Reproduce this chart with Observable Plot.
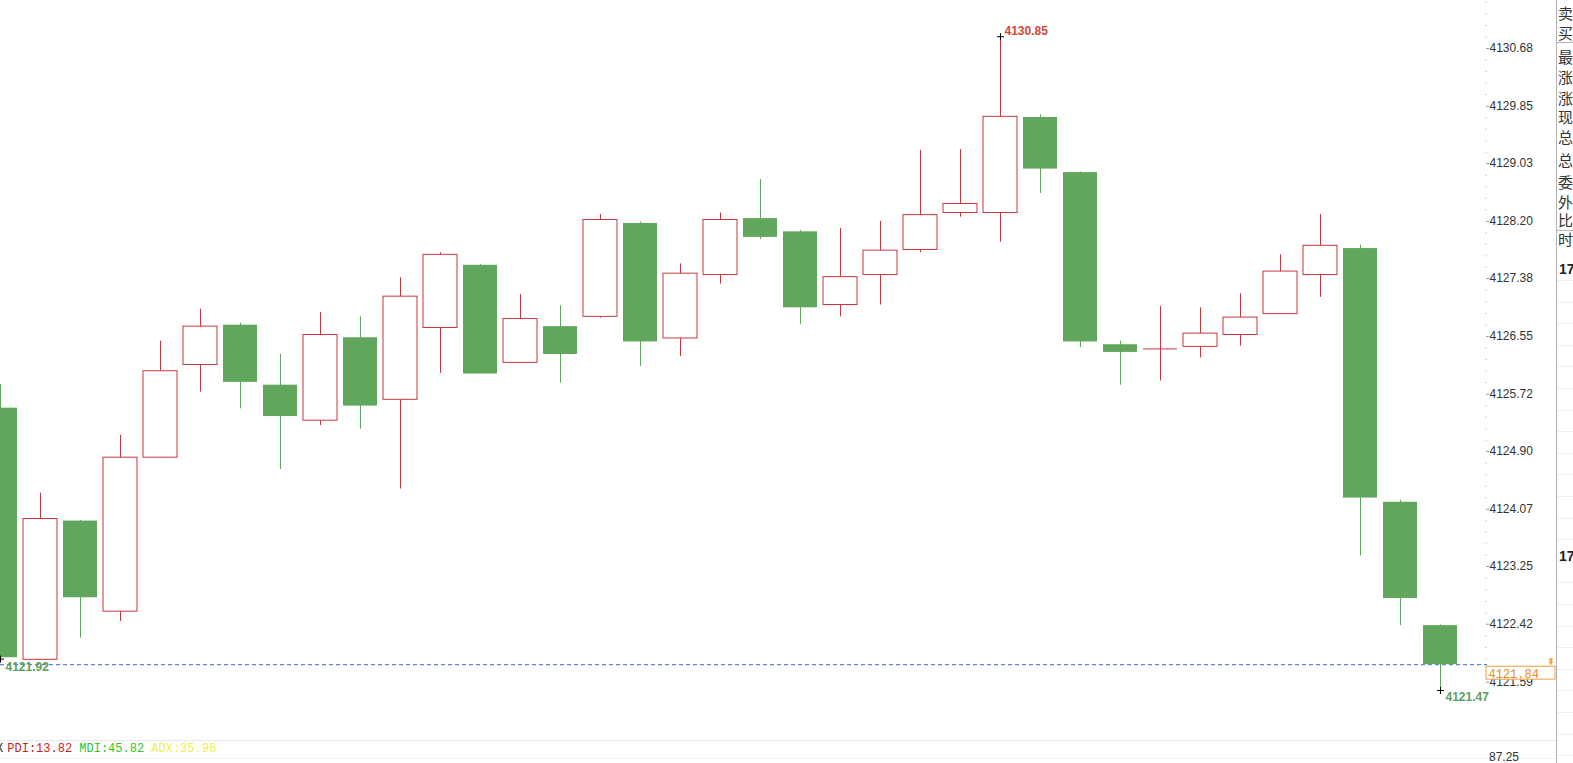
<!DOCTYPE html>
<html>
<head>
<meta charset="utf-8">
<script src="https://cdn.jsdelivr.net/npm/d3@7"></script>
<script src="https://cdn.jsdelivr.net/npm/@observablehq/plot@0.6"></script>
<style>
  html, body { margin: 0; padding: 0; background: #fff; overflow: hidden; }
  #wrap { position: relative; width: 1573px; height: 763px; overflow: hidden; background: #fff; }
  #chart { position: absolute; left: 0; top: 0; }
  #pane { position: absolute; left: 0; top: 712px; width: 1556px; height: 51px; }
  #side { position: absolute; left: 1556px; top: 0; width: 17px; height: 763px; border-left: 1px solid #b4b4b4; overflow: hidden; }
  .mono { font-family: "Liberation Mono", "DejaVu Sans Mono", monospace; font-size: 12px; line-height: 14px; white-space: pre; position: absolute; }
  .sch { position: absolute; left: 1px; font-family: "Noto Sans CJK SC", sans-serif; font-size: 15px; line-height: 16px; color: #333; white-space: nowrap; }
</style>
</head>
<body>
<div id="wrap">
  <div id="chart"></div>
  <div id="pane"></div>
  <div id="side"></div>
</div>
<script>
// ---- data (one candle per bar, left to right) ----
const opens  = [4125.52, 4121.91, 4123.90, 4122.60, 4124.81, 4126.14, 4126.71, 4125.85, 4125.34, 4126.53,
                4125.64, 4126.67, 4127.57, 4126.17, 4126.69, 4126.83, 4128.17, 4126.52, 4127.43, 4128.24,
                4128.05, 4127.00, 4127.43, 4127.79, 4128.32, 4128.32, 4129.69, 4128.90, 4126.43, 4126.37,
                4126.40, 4126.57, 4126.87, 4127.43, 4127.81, 4124.17, 4122.40];
const highs  = [4125.86, 4124.30, 4123.91, 4125.13, 4126.48, 4126.94, 4126.74, 4126.29, 4126.89, 4126.83,
                4127.39, 4127.75, 4127.58, 4127.15, 4126.99, 4128.30, 4128.19, 4127.59, 4128.32, 4128.80,
                4128.07, 4128.10, 4128.20, 4129.22, 4129.23, 4130.85, 4129.73, 4128.91, 4126.48, 4126.98,
                4126.96, 4127.16, 4127.72, 4128.30, 4127.86, 4124.20, 4122.41];
const lows   = [4121.92, 4121.91, 4122.22, 4122.46, 4124.81, 4125.75, 4125.51, 4124.64, 4125.27, 4125.22,
                4124.36, 4126.02, 4126.01, 4126.17, 4125.88, 4126.81, 4126.12, 4126.26, 4127.30, 4127.94,
                4126.72, 4126.83, 4127.00, 4127.75, 4128.26, 4127.90, 4128.60, 4126.39, 4125.85, 4125.91,
                4126.24, 4126.41, 4126.87, 4127.11, 4123.40, 4122.40, 4121.47];
const closes = [4121.94, 4123.93, 4122.80, 4124.81, 4126.05, 4126.69, 4125.89, 4125.40, 4126.57, 4125.55,
                4127.12, 4127.72, 4126.01, 4126.80, 4126.29, 4128.22, 4126.47, 4127.45, 4128.22, 4127.97,
                4126.96, 4127.40, 4127.78, 4128.29, 4128.45, 4129.70, 4128.95, 4126.47, 4126.32, 4126.37,
                4126.59, 4126.82, 4127.48, 4127.85, 4124.23, 4122.79, 4121.84];
const tickLabels = [4121.59, 4122.42, 4123.25, 4124.07, 4124.90, 4125.72, 4126.55, 4127.38, 4128.20, 4129.03, 4129.85, 4130.68];
const lastPrice = 4121.84;
const leftLowLabel = 4121.92;
const indicatorTexts = ["PDI:13.82", "MDI:45.82", "ADX:35.96"];
const indicatorColors = ["#c41f1f", "#2fc42f", "#eeee55"];
const lowerAxisLabel = "87.25";
const sideLabels = ["卖", "买", "最", "涨", "涨", "现", "总", "总", "委", "外", "比", "时"];

// ---- styles ----
const RED = "#c8373d";
const GREEN = "#60a65c";
const RED_TXT = "#d2493c";
const GREEN_TXT = "#5e9e5a";
const ORANGE = "#f0a040";

const data = opens.map((o, i) => ({i, open: o, high: highs[i], low: lows[i], close: closes[i]}));
const isUp = d => d.close >= d.open;
const ups = data.filter(d => isUp(d) && d.close !== d.open);
const downs = data.filter(d => !isUp(d));
const dojis = data.filter(d => d.close === d.open);

const hiIdx = d3.maxIndex(highs);
const loIdx = d3.minIndex(lows);
const hiMark = [{i: hiIdx, v: highs[hiIdx]}];
const loMark = [{i: loIdx, v: lows[loIdx]}];
const leftMark = [{i: 0, v: leftLowLabel}];

// minor ticks on the price axis
const step = (tickLabels[tickLabels.length - 1] - tickLabels[0]) / (tickLabels.length - 1);
const minor = [];
for (let k = -2; k <= (tickLabels.length) * 5; k++) {
  const v = tickLabels[0] + k * step / 5;
  if (k % 5 !== 0 && v > 4121.33 && v < 4131.37) minor.push(v);
}

const W = 0.425;
const plot = Plot.plot({
  width: 1573,
  height: 712,
  marginLeft: 0,
  marginRight: 88,
  marginTop: 0,
  marginBottom: 12,
  x: {domain: [0, 37.125], axis: null},
  y: {domain: [4121.326, 4131.369], axis: null},
  style: {fontFamily: "'Liberation Sans', Arial, sans-serif", fontSize: "12px", overflow: "visible", background: "transparent", color: "#333"},
  marks: [
    // last price dashed line
    Plot.ruleY([lastPrice], {y: d => d, x1: 0, x2: 37.18, stroke: "#3d6fc2", strokeDasharray: "4,3", strokeWidth: 1}),
    // wicks
    Plot.ruleX(ups.concat(dojis), {x: "i", y1: "low", y2: "high", stroke: RED, strokeWidth: 1}),
    Plot.ruleX(downs, {x: "i", y1: "low", y2: "high", stroke: GREEN, strokeWidth: 1}),
    // bodies
    Plot.rect(ups, {x1: d => d.i - W, x2: d => d.i + W, y1: "open", y2: "close", fill: "white", stroke: RED, strokeWidth: 1}),
    Plot.rect(downs, {x1: d => d.i - W, x2: d => d.i + W, y1: "open", y2: "close", fill: GREEN}),
    Plot.ruleY(dojis, {y: "open", x1: d => d.i - W, x2: d => d.i + W, stroke: RED, strokeWidth: 1}),
    // price axis
    Plot.ruleY(minor, {y: d => d, x1: 37.125, x2: 37.175, stroke: "#d0d0d0"}),
    Plot.axisY(tickLabels, {anchor: "right", tickSize: 3, tickPadding: 1, tickFormat: d => d.toFixed(2), fontSize: 12, stroke: "#999", fill: "#333"}),
    // extremes
    Plot.dot(hiMark, {x: "i", y: "v", symbol: "plus", r: 2.4, stroke: "black", strokeWidth: 1}),
    Plot.text(hiMark, {x: "i", y: "v", text: d => d.v.toFixed(2), dx: 4, dy: -6, textAnchor: "start", fill: RED_TXT, fontWeight: "bold", fontSize: 12}),
    Plot.dot(loMark, {x: "i", y: "v", symbol: "plus", r: 2.4, stroke: "black", strokeWidth: 1}),
    Plot.text(loMark, {x: "i", y: "v", text: d => d.v.toFixed(2), dx: 5, dy: 7, textAnchor: "start", fill: GREEN_TXT, fontWeight: "bold", fontSize: 12}),
    Plot.dot(leftMark, {x: "i", y: "v", symbol: "plus", r: 2.4, stroke: "black", strokeWidth: 1}),
    Plot.text(leftMark, {x: "i", y: "v", text: d => d.v.toFixed(2), dx: 5, dy: 8, textAnchor: "start", fill: GREEN_TXT, fontWeight: "bold", fontSize: 12}),
    // last price box
    Plot.rect([lastPrice], {y1: d => d - 0.03, y2: d => d - 0.215, x1: 37.15, x2: 38.875, fill: "white", stroke: ORANGE, strokeWidth: 1}),
    Plot.text([lastPrice], {y: d => d, x: 37.2, dy: 9, text: d => d.toFixed(2), textAnchor: "start", fill: "#e88a20",
      fontFamily: "'Liberation Mono', 'DejaVu Sans Mono', monospace", fontSize: 12}),
    Plot.dot([lastPrice], {y: d => d, x: 38.76, dy: -5, symbol: "triangle", rotate: 180, r: 1.8, fill: ORANGE}),
    Plot.dot([lastPrice], {y: d => d, x: 38.76, dy: -2, symbol: "triangle", rotate: 180, r: 1.8, fill: ORANGE})
  ]
});
document.getElementById("chart").appendChild(plot);

// ---- lower indicator pane ----
const pane = document.getElementById("pane");
pane.innerHTML =
  '<div style="position:absolute;left:0;top:28px;width:1556px;height:1px;background:#e6e6e6"></div>' +
  '<div style="position:absolute;left:0;top:46px;width:1556px;border-top:1px dotted #ececec"></div>';
const xs = document.createElement("div");
xs.className = "mono"; xs.style.left = "-4px"; xs.style.top = "30px"; xs.style.color = "#222"; xs.textContent = "X";
pane.appendChild(xs);
indicatorTexts.forEach((t, k) => {
  const s = document.createElement("div");
  s.className = "mono";
  s.style.left = (7.3 + k * 72) + "px";
  s.style.top = "30px";
  s.style.color = indicatorColors[k];
  s.textContent = t;
  pane.appendChild(s);
});
const lab = document.createElement("div");
lab.style.cssText = "position:absolute;left:1489px;top:38px;font:12px 'Liberation Sans',Arial,sans-serif;line-height:14px;color:#333";
lab.textContent = lowerAxisLabel;
pane.appendChild(lab);

// ---- right side panel ----
const side = document.getElementById("side");
const sideY = [13, 33, 57, 77, 98, 117, 137, 160, 182, 202, 220, 239];
sideLabels.forEach((c, k) => {
  const e = document.createElement("div");
  e.className = "sch";
  e.style.top = (sideY[k] - 8) + "px";
  e.textContent = c;
  side.appendChild(e);
});
[42, 230].forEach(y => {
  const l = document.createElement("div");
  l.style.cssText = `position:absolute;left:0;top:${y}px;width:17px;height:1px;background:#b4b4b4`;
  side.appendChild(l);
});
for (let y = 280; y < 763; y += 21.6) {
  const l = document.createElement("div");
  l.style.cssText = `position:absolute;left:0;top:${Math.round(y)}px;width:17px;height:1px;background:#efefef`;
  side.appendChild(l);
}
[269, 556].forEach(y => {
  const e = document.createElement("div");
  e.style.cssText = `position:absolute;left:2px;top:${y - 8}px;font:bold 14px 'Liberation Sans',Arial,sans-serif;line-height:16px;color:#222;white-space:nowrap`;
  e.textContent = "17";
  side.appendChild(e);
});
</script>
</body>
</html>
